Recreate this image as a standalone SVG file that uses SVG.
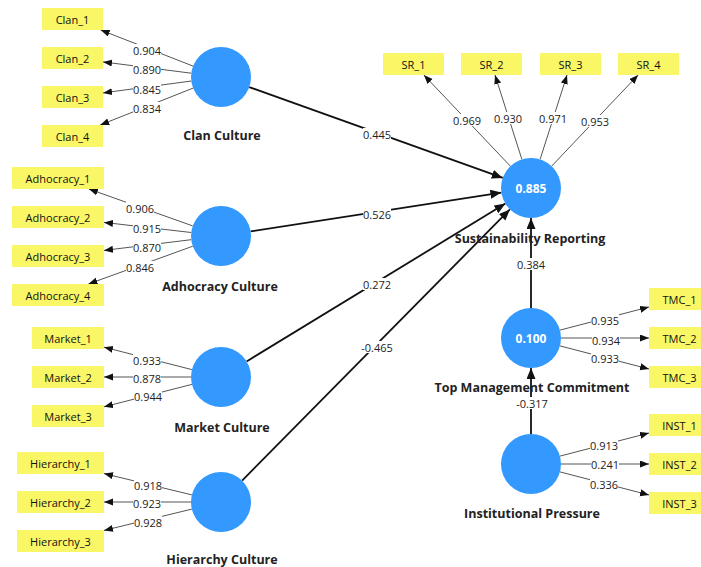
<svg xmlns="http://www.w3.org/2000/svg" width="701" height="567" viewBox="0 0 701 567">
<style>
.bg{fill:#ffffff}
.box{fill:#f9f765}
.lv{fill:#3399ff}
.btxt{font-family:"Open Sans","Noto Sans",sans-serif;font-size:11px;fill:#111;text-anchor:middle;dominant-baseline:central}
.lvl{font-family:"Open Sans","Noto Sans",sans-serif;font-size:12.5px;font-weight:bold;fill:#222;text-anchor:middle;dominant-baseline:central}
.r2{font-family:"Open Sans","Noto Sans",sans-serif;font-size:12px;font-weight:bold;fill:#ffffff;text-anchor:middle;dominant-baseline:central}
.ml{stroke:#555;stroke-width:1;fill:none}
.sl{stroke:#111;stroke-width:1.8;fill:none}
.lb{fill:#ffffff}
.lab{font-family:"Open Sans","Noto Sans",sans-serif;font-size:11px;fill:#222;text-anchor:middle;dominant-baseline:central}
</style>
<defs>
<marker id="am" markerUnits="userSpaceOnUse" markerWidth="10" markerHeight="8" refX="9" refY="3.5" orient="auto"><path d="M0,0 L9,3.5 L0,7 z" fill="#111"/></marker>
<marker id="as" markerUnits="userSpaceOnUse" markerWidth="12" markerHeight="10" refX="11" refY="4.5" orient="auto"><path d="M0,0 L11,4.5 L0,9 z" fill="#111"/></marker>
</defs>
<rect class="bg" x="0" y="0" width="701" height="567"/>

<g id="connectors">
<!-- Clan -->
<line class="ml" x1="193.1" y1="66.1" x2="100.7" y2="30" marker-end="url(#am)"/>
<line class="ml" x1="191.2" y1="73.2" x2="103" y2="61.9" marker-end="url(#am)"/>
<line class="ml" x1="191.3" y1="81" x2="103" y2="92.9" marker-end="url(#am)"/>
<line class="ml" x1="193.1" y1="88.1" x2="100.2" y2="125" marker-end="url(#am)"/>
<!-- Adhocracy -->
<line class="ml" x1="192.7" y1="225.9" x2="88.9" y2="189" marker-end="url(#am)"/>
<line class="ml" x1="191.2" y1="232.5" x2="104" y2="222.4" marker-end="url(#am)"/>
<line class="ml" x1="191.2" y1="239.7" x2="104" y2="250.4" marker-end="url(#am)"/>
<line class="ml" x1="192.8" y1="246.2" x2="88.4" y2="284" marker-end="url(#am)"/>
<!-- Market -->
<line class="ml" x1="191.9" y1="369.6" x2="104" y2="347.2" marker-end="url(#am)"/>
<line class="ml" x1="191" y1="377" x2="104" y2="377" marker-end="url(#am)"/>
<line class="ml" x1="191.9" y1="384.4" x2="104" y2="406.8" marker-end="url(#am)"/>
<!-- Hierarchy -->
<line class="ml" x1="191.9" y1="494.9" x2="104" y2="473.6" marker-end="url(#am)"/>
<line class="ml" x1="191" y1="502" x2="104" y2="502" marker-end="url(#am)"/>
<line class="ml" x1="191.9" y1="509.1" x2="104" y2="530.4" marker-end="url(#am)"/>
<!-- SR -->
<line class="ml" x1="510.4" y1="166.2" x2="423.9" y2="75" marker-end="url(#am)"/>
<line class="ml" x1="521.9" y1="159.4" x2="495" y2="75" marker-end="url(#am)"/>
<line class="ml" x1="540.1" y1="159.4" x2="567" y2="75" marker-end="url(#am)"/>
<line class="ml" x1="551.6" y1="166.2" x2="638.1" y2="75" marker-end="url(#am)"/>
<!-- TMC -->
<line class="ml" x1="560" y1="330.1" x2="649" y2="307" marker-end="url(#am)"/>
<line class="ml" x1="561" y1="338" x2="649" y2="338" marker-end="url(#am)"/>
<line class="ml" x1="560" y1="345.9" x2="649" y2="369" marker-end="url(#am)"/>
<!-- INST -->
<line class="ml" x1="560" y1="456.1" x2="649" y2="433" marker-end="url(#am)"/>
<line class="ml" x1="561" y1="464" x2="649" y2="464" marker-end="url(#am)"/>
<line class="ml" x1="560" y1="471.9" x2="649" y2="495" marker-end="url(#am)"/>
<!-- structural -->
<line class="sl" x1="249.2" y1="87.1" x2="502.8" y2="177.9" marker-end="url(#as)"/>
<line class="sl" x1="250.6" y1="231.4" x2="501.4" y2="192.6" marker-end="url(#as)"/>
<line class="sl" x1="246.6" y1="361.4" x2="505.4" y2="203.6" marker-end="url(#as)"/>
<line class="sl" x1="242.1" y1="480.6" x2="509.9" y2="209.4" marker-end="url(#as)"/>
<line class="sl" x1="531" y1="308" x2="531" y2="218" marker-end="url(#as)"/>
<line class="sl" x1="531" y1="434" x2="531" y2="368" marker-end="url(#as)"/>
<!-- label backgrounds -->
<rect class="lb" x="133" y="44" width="28" height="12"/>
<rect class="lb" x="133" y="63" width="28" height="12"/>
<rect class="lb" x="133" y="83" width="28" height="12"/>
<rect class="lb" x="133" y="102" width="28" height="12"/>
<rect class="lb" x="126" y="202" width="28" height="12"/>
<rect class="lb" x="133" y="222" width="28" height="12"/>
<rect class="lb" x="133" y="241" width="28" height="12"/>
<rect class="lb" x="126" y="261" width="28" height="12"/>
<rect class="lb" x="133" y="354" width="28" height="12"/>
<rect class="lb" x="133" y="372" width="28" height="12"/>
<rect class="lb" x="134" y="390" width="28" height="12"/>
<rect class="lb" x="134" y="479" width="28" height="12"/>
<rect class="lb" x="133" y="497" width="28" height="12"/>
<rect class="lb" x="134" y="516" width="28" height="12"/>
<rect class="lb" x="453" y="114" width="28" height="12"/>
<rect class="lb" x="494" y="112" width="28" height="12"/>
<rect class="lb" x="539" y="112" width="28" height="12"/>
<rect class="lb" x="581" y="115" width="28" height="12"/>
<rect class="lb" x="591" y="314" width="28" height="12"/>
<rect class="lb" x="592" y="334" width="28" height="12"/>
<rect class="lb" x="591" y="352" width="28" height="12"/>
<rect class="lb" x="590" y="439" width="28" height="12"/>
<rect class="lb" x="591" y="458" width="28" height="12"/>
<rect class="lb" x="590" y="478" width="28" height="12"/>
<rect class="lb" x="363" y="128" width="28" height="12"/>
<rect class="lb" x="363" y="208" width="28" height="12"/>
<rect class="lb" x="363" y="278" width="28" height="12"/>
<rect class="lb" x="360" y="341" width="34" height="12"/>
<rect class="lb" x="517" y="258" width="28" height="12"/>
<rect class="lb" x="515" y="397" width="34" height="12"/>
<!-- labels -->
<text class="lab" x="147" y="50">0.904</text>
<text class="lab" x="147" y="69">0.890</text>
<text class="lab" x="147" y="89">0.845</text>
<text class="lab" x="147" y="108">0.834</text>
<text class="lab" x="140" y="208">0.906</text>
<text class="lab" x="147" y="228">0.915</text>
<text class="lab" x="147" y="247">0.870</text>
<text class="lab" x="140" y="267">0.846</text>
<text class="lab" x="147" y="360">0.933</text>
<text class="lab" x="147" y="378">0.878</text>
<text class="lab" x="148" y="396">0.944</text>
<text class="lab" x="148" y="485">0.918</text>
<text class="lab" x="147" y="503">0.923</text>
<text class="lab" x="148" y="522">0.928</text>
<text class="lab" x="467" y="120">0.969</text>
<text class="lab" x="508" y="118">0.930</text>
<text class="lab" x="553" y="118">0.971</text>
<text class="lab" x="595" y="121">0.953</text>
<text class="lab" x="605" y="320">0.935</text>
<text class="lab" x="606" y="340">0.934</text>
<text class="lab" x="605" y="358">0.933</text>
<text class="lab" x="604" y="445">0.913</text>
<text class="lab" x="605" y="464">0.241</text>
<text class="lab" x="604" y="484">0.336</text>
<text class="lab" x="377" y="134">0.445</text>
<text class="lab" x="377" y="214">0.526</text>
<text class="lab" x="377" y="284">0.272</text>
<text class="lab" x="377" y="347">-0.465</text>
<text class="lab" x="531" y="264">0.384</text>
<text class="lab" x="532" y="403">-0.317</text>
</g>

<g id="clan_culture">
<circle class="lv" cx="221" cy="77" r="30"/>
<text class="lvl" x="222" y="135">Clan Culture</text>
</g>
<g id="clan_1"><rect class="box" x="42" y="8" width="61" height="22"/><text class="btxt" x="72.5" y="19">Clan_1</text></g>
<g id="clan_2"><rect class="box" x="42" y="47" width="61" height="22"/><text class="btxt" x="72.5" y="58">Clan_2</text></g>
<g id="clan_3"><rect class="box" x="42" y="86" width="61" height="22"/><text class="btxt" x="72.5" y="97">Clan_3</text></g>
<g id="clan_4"><rect class="box" x="42" y="125" width="61" height="22"/><text class="btxt" x="72.5" y="136">Clan_4</text></g>

<g id="adhocracy_culture">
<circle class="lv" cx="221" cy="236" r="30"/>
<text class="lvl" x="220" y="286">Adhocracy Culture</text>
</g>
<g id="adhocracy_1"><rect class="box" x="12" y="167" width="92" height="22"/><text class="btxt" x="58" y="178">Adhocracy_1</text></g>
<g id="adhocracy_2"><rect class="box" x="12" y="206" width="92" height="22"/><text class="btxt" x="58" y="217">Adhocracy_2</text></g>
<g id="adhocracy_3"><rect class="box" x="12" y="245" width="92" height="22"/><text class="btxt" x="58" y="256">Adhocracy_3</text></g>
<g id="adhocracy_4"><rect class="box" x="12" y="284" width="92" height="22"/><text class="btxt" x="58" y="295">Adhocracy_4</text></g>

<g id="market_culture">
<circle class="lv" cx="221" cy="377" r="30"/>
<text class="lvl" x="222" y="427">Market Culture</text>
</g>
<g id="market_1"><rect class="box" x="32" y="327" width="72" height="22"/><text class="btxt" x="68" y="338">Market_1</text></g>
<g id="market_2"><rect class="box" x="32" y="366" width="72" height="22"/><text class="btxt" x="68" y="377">Market_2</text></g>
<g id="market_3"><rect class="box" x="32" y="405" width="72" height="22"/><text class="btxt" x="68" y="416">Market_3</text></g>

<g id="hierarchy_culture">
<circle class="lv" cx="221" cy="502" r="30"/>
<text class="lvl" x="222" y="559">Hierarchy Culture</text>
</g>
<g id="hierarchy_1"><rect class="box" x="17" y="452" width="87" height="22"/><text class="btxt" x="60.5" y="463">Hierarchy_1</text></g>
<g id="hierarchy_2"><rect class="box" x="17" y="491" width="87" height="22"/><text class="btxt" x="60.5" y="502">Hierarchy_2</text></g>
<g id="hierarchy_3"><rect class="box" x="17" y="530" width="87" height="22"/><text class="btxt" x="60.5" y="541">Hierarchy_3</text></g>

<g id="sustainability_reporting">
<circle class="lv" cx="531" cy="188" r="30"/>
<text class="r2" x="531" y="188">0.885</text>
<text class="lvl" x="530" y="238">Sustainability Reporting</text>
</g>
<g id="sr_1"><rect class="box" x="383" y="53" width="61" height="22"/><text class="btxt" x="413.5" y="64">SR_1</text></g>
<g id="sr_2"><rect class="box" x="461" y="53" width="61" height="22"/><text class="btxt" x="491.5" y="64">SR_2</text></g>
<g id="sr_3"><rect class="box" x="540" y="53" width="61" height="22"/><text class="btxt" x="570.5" y="64">SR_3</text></g>
<g id="sr_4"><rect class="box" x="618" y="53" width="61" height="22"/><text class="btxt" x="648.5" y="64">SR_4</text></g>

<g id="top_management_commitment">
<circle class="lv" cx="531" cy="338" r="30"/>
<text class="r2" x="531" y="338">0.100</text>
<text class="lvl" x="532" y="387">Top Management Commitment</text>
</g>
<g id="tmc_1"><rect class="box" x="649" y="288" width="61" height="22"/><text class="btxt" x="679.5" y="299">TMC_1</text></g>
<g id="tmc_2"><rect class="box" x="649" y="327" width="61" height="22"/><text class="btxt" x="679.5" y="338">TMC_2</text></g>
<g id="tmc_3"><rect class="box" x="649" y="366" width="61" height="22"/><text class="btxt" x="679.5" y="377">TMC_3</text></g>

<g id="institutional_pressure">
<circle class="lv" cx="531" cy="464" r="30"/>
<text class="lvl" x="532" y="513">Institutional Pressure</text>
</g>
<g id="inst_1"><rect class="box" x="649" y="414" width="61" height="22"/><text class="btxt" x="679.5" y="425">INST_1</text></g>
<g id="inst_2"><rect class="box" x="649" y="453" width="61" height="22"/><text class="btxt" x="679.5" y="464">INST_2</text></g>
<g id="inst_3"><rect class="box" x="649" y="492" width="61" height="22"/><text class="btxt" x="679.5" y="503">INST_3</text></g>
</svg>
